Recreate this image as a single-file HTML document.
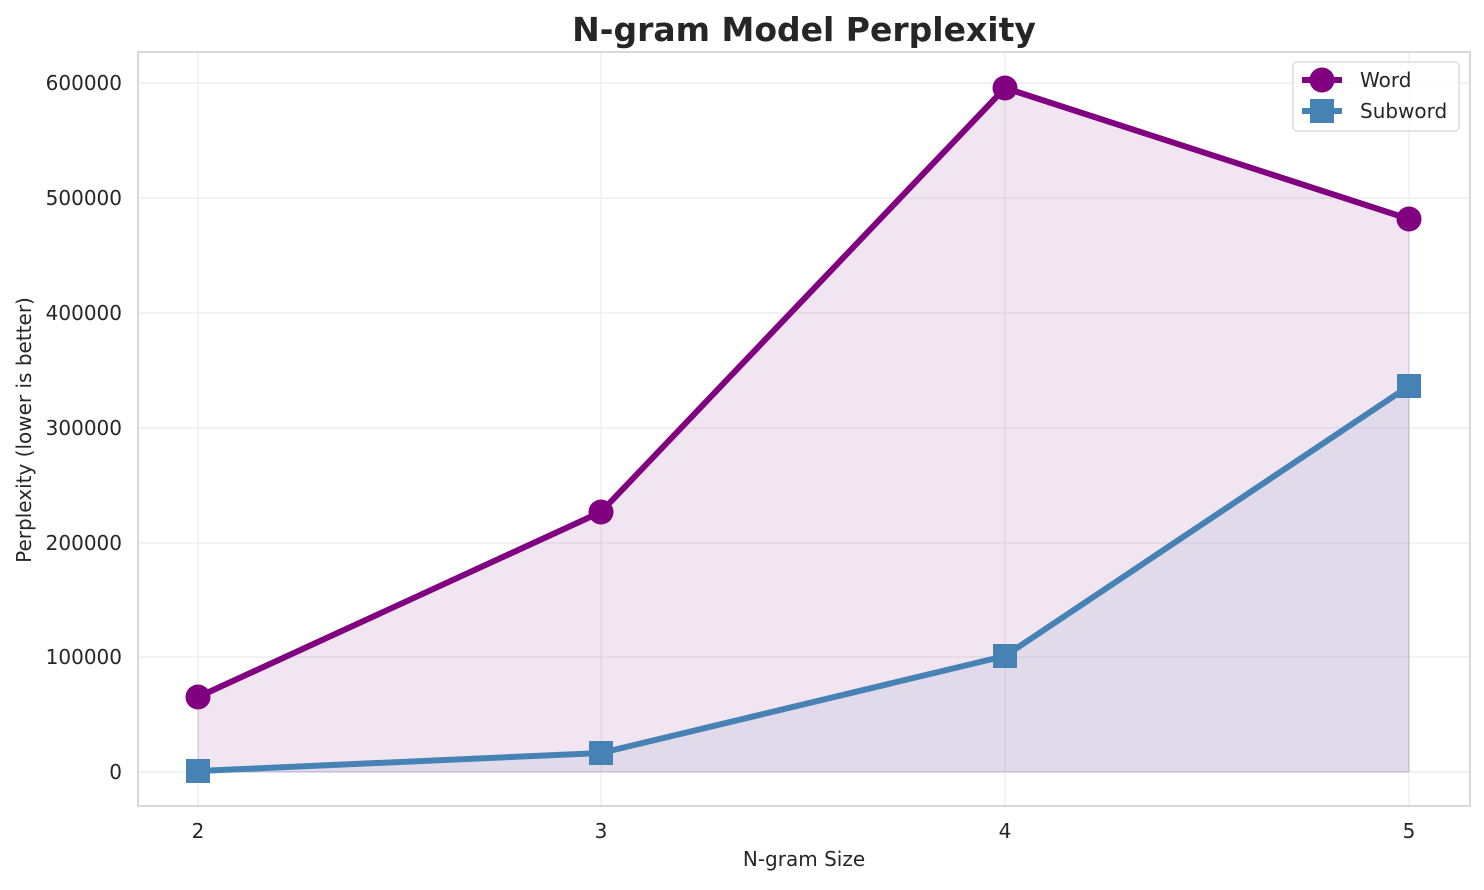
<!DOCTYPE html>
<html><head><meta charset="utf-8"><style>
body{margin:0;background:#fff;}
svg text{font-family:"DejaVu Sans",sans-serif;fill:#262626;}
</style></head><body>
<svg width="1484" height="885" xmlns="http://www.w3.org/2000/svg">
<rect width="1484" height="885" fill="#fff"/>
<g stroke="#ebebeb" stroke-width="1.2">
<line x1="198" y1="52" x2="198" y2="806"/><line x1="601" y1="52" x2="601" y2="806"/>
<line x1="1005" y1="52" x2="1005" y2="806"/><line x1="1409" y1="52" x2="1409" y2="806"/>
<line x1="138" y1="772" x2="1470" y2="772"/><line x1="138" y1="657" x2="1470" y2="657"/>
<line x1="138" y1="543" x2="1470" y2="543"/><line x1="138" y1="428" x2="1470" y2="428"/>
<line x1="138" y1="313" x2="1470" y2="313"/><line x1="138" y1="198" x2="1470" y2="198"/>
<line x1="138" y1="83" x2="1470" y2="83"/>
</g>
<polygon points="198,772 198,697 601,512 1005,88 1409,219 1409,772" fill="rgba(128,0,128,0.1)" stroke="rgba(128,0,128,0.15)"/>
<polygon points="198,772 198,771 601,753 1005,656 1409,386 1409,772" fill="rgba(70,130,180,0.1)" stroke="rgba(70,130,180,0.15)"/>
<rect x="138" y="52" width="1332" height="754" fill="none" stroke="#cccccc" stroke-width="1.5"/>
<polyline points="198,697 601,512 1005,88 1409,219" fill="none" stroke="#800080" stroke-width="6" stroke-linejoin="round"/>
<g fill="#800080"><circle cx="198" cy="697" r="12.5"/><circle cx="601" cy="512" r="12.5"/><circle cx="1005" cy="88" r="12.5"/><circle cx="1409" cy="219" r="12.5"/></g>
<polyline points="198,771 601,753 1005,656 1409,386" fill="none" stroke="#4682b4" stroke-width="6" stroke-linejoin="round"/>
<g fill="#4682b4"><rect x="186" y="759" width="24" height="24"/><rect x="589" y="741" width="24" height="24"/><rect x="993" y="644" width="24" height="24"/><rect x="1397" y="374" width="24" height="24"/></g>
<g font-size="20" text-anchor="middle">
<text x="198" y="838">2</text><text x="601" y="838">3</text><text x="1005" y="838">4</text><text x="1409" y="838">5</text>
</g>
<g font-size="20" text-anchor="end">
<text x="122" y="779">0</text><text x="122" y="664">100000</text><text x="122" y="550">200000</text>
<text x="122" y="435">300000</text><text x="122" y="320">400000</text><text x="122" y="205">500000</text><text x="122" y="90">600000</text>
</g>
<text x="804" y="866" font-size="20" text-anchor="middle">N-gram Size</text>
<text transform="translate(31,430) rotate(-90)" font-size="20" text-anchor="middle">Perplexity (lower is better)</text>
<text x="804" y="41" font-size="33" font-weight="bold" text-anchor="middle">N-gram Model Perplexity</text>
<rect x="1293" y="62" width="166" height="69" rx="4" fill="#fff" fill-opacity="0.8" stroke="#cccccc"/>
<line x1="1302" y1="80" x2="1342" y2="80" stroke="#800080" stroke-width="6"/>
<circle cx="1322" cy="80" r="12.5" fill="#800080"/>
<text x="1360" y="87" font-size="20">Word</text>
<line x1="1302" y1="111" x2="1342" y2="111" stroke="#4682b4" stroke-width="6"/>
<rect x="1310" y="99" width="24" height="24" fill="#4682b4"/>
<text x="1360" y="118" font-size="20">Subword</text>
</svg>
</body></html>
